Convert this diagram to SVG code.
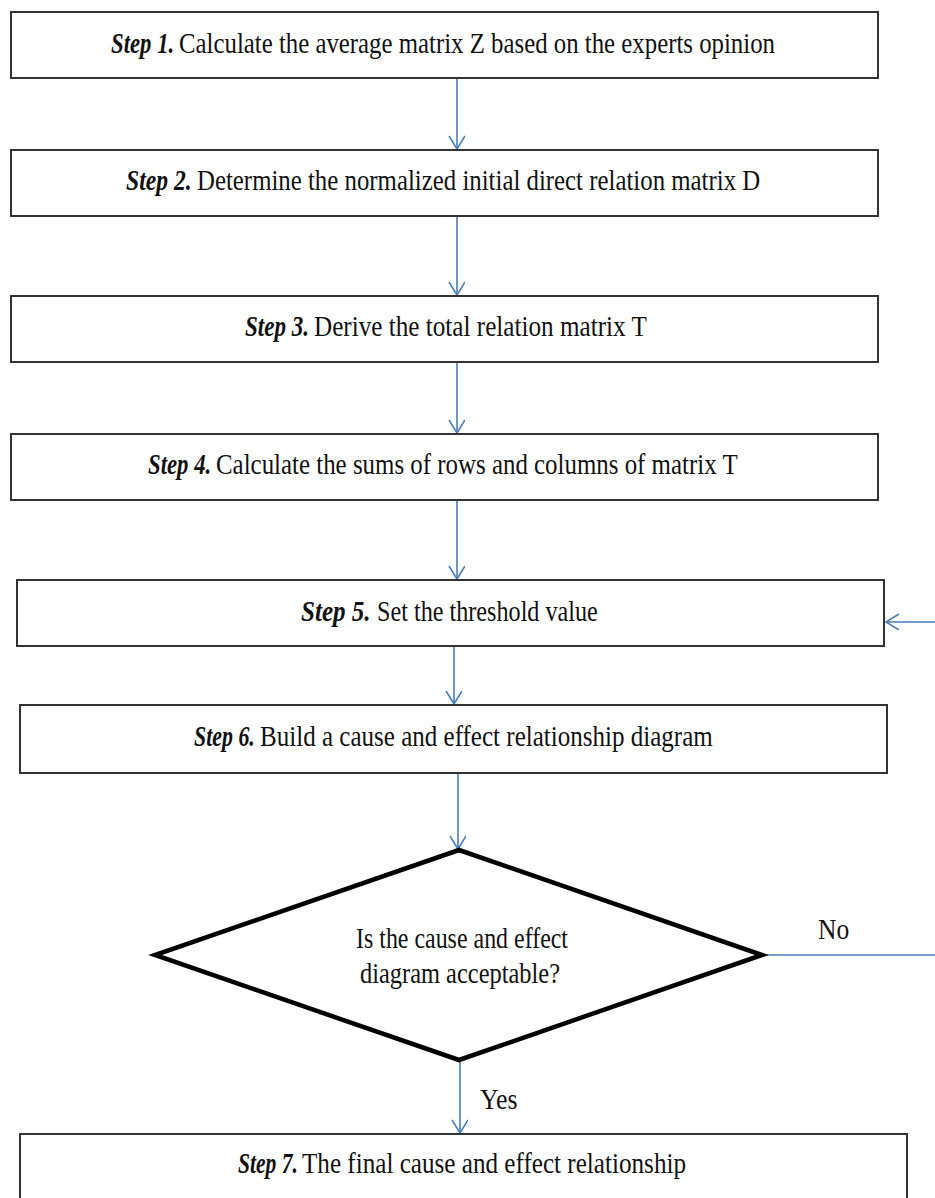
<svg xmlns="http://www.w3.org/2000/svg" width="935" height="1198" viewBox="0 0 935 1198">
<style>
.box{fill:#fff;stroke:#333;stroke-width:2}
.dia{fill:#fff;stroke:#000;stroke-width:4.5;stroke-linejoin:miter}
.t{font-family:"Liberation Serif",serif;font-size:30px;fill:#111}
.b{font-weight:bold;font-style:italic}
.c{fill:none;stroke:#4a7ebb;stroke-width:1.6}
</style>
<defs>
<marker id="ah" markerWidth="20" markerHeight="20" refX="14" refY="8" orient="auto" markerUnits="userSpaceOnUse">
<path d="M1,0 L14,8 L1,16" fill="none" stroke="#4a7ebb" stroke-width="1.6"/>
</marker>
</defs>
<rect width="935" height="1198" fill="#fff"/>
<g id="connectors">
<line class="c" x1="457" y1="79" x2="457" y2="149" marker-end="url(#ah)"/>
<line class="c" x1="457" y1="217" x2="457" y2="295" marker-end="url(#ah)"/>
<line class="c" x1="457" y1="363" x2="457" y2="433" marker-end="url(#ah)"/>
<line class="c" x1="457" y1="501" x2="457" y2="579" marker-end="url(#ah)"/>
<line class="c" x1="454" y1="640" x2="454" y2="704" marker-end="url(#ah)"/>
<line class="c" x1="458" y1="774" x2="458" y2="849" marker-end="url(#ah)"/>
<line class="c" x1="460" y1="1061" x2="460" y2="1133" marker-end="url(#ah)"/>
<path class="c" d="M762,955 H945 V622 H886" marker-end="url(#ah)"/>
<text class="t" transform="translate(818,939) scale(0.8,1)" textLength="39" lengthAdjust="spacingAndGlyphs">No</text>
<text class="t" transform="translate(480,1109) scale(0.8,1)" textLength="47" lengthAdjust="spacingAndGlyphs">Yes</text>
</g>
<g id="step1">
<rect class="box" x="11" y="12" width="867" height="66"/>
<text class="t b" transform="translate(111,53) scale(0.8,1)" textLength="79" lengthAdjust="spacingAndGlyphs">Step 1.</text>
<text class="t" transform="translate(179,53) scale(0.8,1)" textLength="745" lengthAdjust="spacingAndGlyphs">Calculate the average matrix Z based on the experts opinion</text>
</g>
<g id="step2">
<rect class="box" x="11" y="150" width="867" height="66"/>
<text class="t b" transform="translate(126,190) scale(0.8,1)" textLength="82" lengthAdjust="spacingAndGlyphs">Step 2.</text>
<text class="t" transform="translate(197,190) scale(0.8,1)" textLength="704" lengthAdjust="spacingAndGlyphs">Determine the normalized initial direct relation matrix D</text>
</g>
<g id="step3">
<rect class="box" x="11" y="296" width="867" height="66"/>
<text class="t b" transform="translate(245,336) scale(0.8,1)" textLength="80" lengthAdjust="spacingAndGlyphs">Step 3.</text>
<text class="t" transform="translate(314,336) scale(0.8,1)" textLength="416" lengthAdjust="spacingAndGlyphs">Derive the total relation matrix T</text>
</g>
<g id="step4">
<rect class="box" x="11" y="434" width="867" height="66"/>
<text class="t b" transform="translate(148,474) scale(0.8,1)" textLength="79" lengthAdjust="spacingAndGlyphs">Step 4.</text>
<text class="t" transform="translate(216,474) scale(0.8,1)" textLength="652" lengthAdjust="spacingAndGlyphs">Calculate the sums of rows and columns of matrix T</text>
</g>
<g id="step5">
<rect class="box" x="17" y="580" width="867" height="66"/>
<text class="t b" transform="translate(301,621) scale(0.8,1)" textLength="87" lengthAdjust="spacingAndGlyphs">Step 5.</text>
<text class="t" transform="translate(377,621) scale(0.8,1)" textLength="276" lengthAdjust="spacingAndGlyphs">Set the threshold value</text>
</g>
<g id="step6">
<rect class="box" x="20" y="705" width="867" height="68"/>
<text class="t b" transform="translate(194,746) scale(0.8,1)" textLength="76" lengthAdjust="spacingAndGlyphs">Step 6.</text>
<text class="t" transform="translate(260,746) scale(0.8,1)" textLength="566" lengthAdjust="spacingAndGlyphs">Build a cause and effect relationship diagram</text>
</g>
<g id="decision">
<polygon class="dia" points="459,850 762,955 459,1060 155,955"/>
<text class="t" transform="translate(356,948) scale(0.8,1)" textLength="265" lengthAdjust="spacingAndGlyphs">Is the cause and effect</text>
<text class="t" transform="translate(360,983) scale(0.8,1)" textLength="250" lengthAdjust="spacingAndGlyphs">diagram acceptable?</text>
</g>
<g id="step7">
<rect class="box" x="20" y="1134" width="887" height="80"/>
<text class="t b" transform="translate(238,1173) scale(0.8,1)" textLength="75" lengthAdjust="spacingAndGlyphs">Step 7.</text>
<text class="t" transform="translate(302,1173) scale(0.8,1)" textLength="480" lengthAdjust="spacingAndGlyphs">The final cause and effect relationship</text>
</g>
</svg>
